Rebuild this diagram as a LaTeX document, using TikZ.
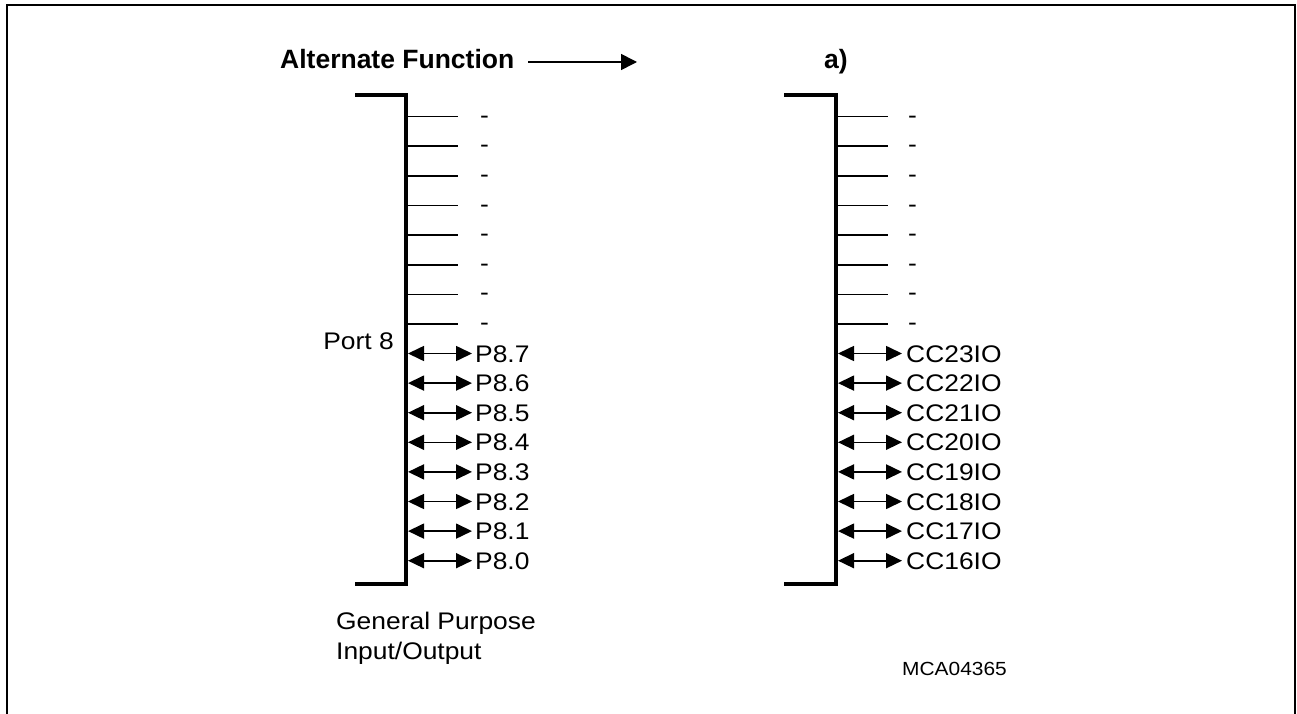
\documentclass[tikz,border=0pt]{standalone}
\usepackage{fontspec}
\setmainfont{Liberation Sans}
\newfontfamily\regf[FakeStretch=1.1]{Liberation Sans}
\usetikzlibrary{arrows.meta}
\begin{document}
\begin{tikzpicture}[x=1pt,y=-1pt,
  reg/.style={font=\regf\fontsize{24}{30}\selectfont, inner sep=0pt},
  bld/.style={font=\bfseries\fontsize{26.5}{32}\selectfont, inner sep=0pt},
  small/.style={font=\regf\fontsize{19}{23}\selectfont, inner sep=0pt},
  bracket/.style={line width=4pt, line join=miter},
  stub/.style={line width=1.6pt},
  io/.style={line width=1.6pt, {Triangle[length=16pt,width=15pt]}-{Triangle[length=16pt,width=15pt]}},
  single/.style={line width=1.6pt, -{Triangle[length=16pt,width=16pt]}},
  frame/.style={line width=2pt, line join=miter}]
\useasboundingbox (0,0) rectangle (1297,714);
\draw[frame] (7,714) -- (7,5) -- (1295,5) -- (1295,714);

% headline
\node[bld, anchor=base west] (af) at (280,69) {Alternate Function};
\coordinate (afs) at (528,62);
\coordinate (afe) at (637,62);
\draw[single] (afs) -- (afe);
\node[bld, anchor=base west] (alt) at (824,69) {a)};

% brackets
\coordinate (lt) at (355,95); \coordinate (lc) at (406,95);
\coordinate (lb) at (406,584); \coordinate (lbe) at (355,584);
\draw[bracket] (lt) -- (lc) -- (lb) -- (lbe);
\coordinate (rt) at (784,95); \coordinate (rc) at (836,95);
\coordinate (rb) at (836,584); \coordinate (rbe) at (784,584);
\draw[bracket] (rt) -- (rc) -- (rb) -- (rbe);

% unused pins
\foreach \k in {0,...,7} {
  \pgfmathsetmacro{\yy}{116.7+29.6*\k}
  \coordinate (ls\k) at (406,\yy); \coordinate (le\k) at (458,\yy);
  \draw[stub] (ls\k) -- (le\k);
  \node[reg, anchor=base west] (ld\k) at (480,\yy+6.6) {-};
  \coordinate (rs\k) at (836,\yy); \coordinate (re\k) at (888,\yy);
  \draw[stub] (rs\k) -- (re\k);
  \node[reg, anchor=base west] (rd\k) at (908,\yy+6.6) {-};
}

% io pins
\foreach \k/\p/\c in {8/7/23,9/6/22,10/5/21,11/4/20,12/3/19,13/2/18,14/1/17,15/0/16} {
  \pgfmathsetmacro{\yy}{116.7+29.6*\k}
  \coordinate (la\k) at (408,\yy); \coordinate (lz\k) at (472,\yy);
  \draw[io] (la\k) -- (lz\k);
  \node[reg, anchor=base west] (lp\k) at (475,\yy+8.5) {P8.\p};
  \coordinate (ra\k) at (838,\yy); \coordinate (rz\k) at (902,\yy);
  \draw[io] (ra\k) -- (rz\k);
  \node[reg, anchor=base west] (rp\k) at (906,\yy+8.5) {CC\c IO};
}

\node[reg, anchor=base east] (port) at (394,349) {Port 8};
\node[reg, anchor=base west] (gp1) at (336,629) {General Purpose};
\node[reg, anchor=base west] (gp2) at (336,659) {Input/Output};
\node[small, anchor=base west] (mca) at (902,675) {MCA04365};
\end{tikzpicture}
\end{document}
